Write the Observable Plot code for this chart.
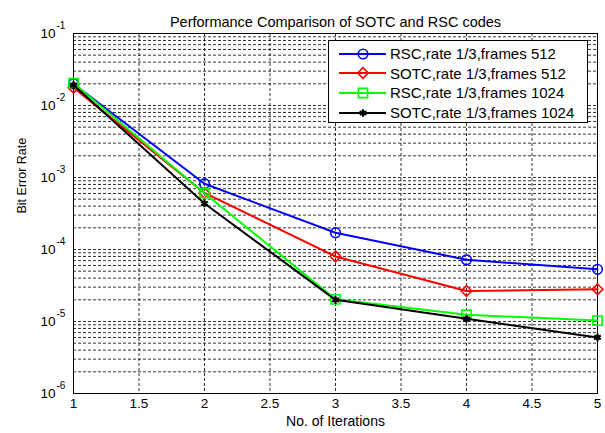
<!DOCTYPE html>
<html>
<head>
<meta charset="utf-8">
<script src="https://cdn.jsdelivr.net/npm/d3@7"></script>
<script src="https://cdn.jsdelivr.net/npm/@observablehq/plot@0.6"></script>
<style>
  body { margin: 0; background: #fff; font-family: "Liberation Sans", Arial, sans-serif; }
  #wrap { position: relative; width: 605px; height: 433px; }
  #legend { position: absolute; left: 328px; top: 40px; width: 260px; height: 83px; background: #fff; border: 1px solid #000; box-sizing: border-box; padding-top: 3px; }
  .row { display: flex; align-items: center; height: 19.6px; }
  .row svg { margin-left: 8px; margin-right: 3px; flex: none; }
  .row span { font-size: 15px; color: #000; white-space: nowrap; }
</style>
</head>
<body>
<div id="wrap"></div>
<script>
const iterations = [1, 2, 3, 4, 5];
const rsc512   = [0.0200, 8.2e-4, 1.71e-4, 7.2e-5, 5.3e-5];
const sotc512  = [0.0177, 6.1e-4, 8.0e-5, 2.65e-5, 2.8e-5];
const rsc1024  = [0.0204, 6.05e-4, 2.03e-5, 1.24e-5, 1.03e-5];
const sotc1024 = [0.0192, 4.35e-4, 2.0e-5, 1.09e-5, 6.0e-6];

const seriesNames = ["RSC,rate 1/3,frames 512", "SOTC,rate 1/3,frames 512", "RSC,rate 1/3,frames 1024", "SOTC,rate 1/3,frames 1024"];
const seriesValues = [rsc512, sotc512, rsc1024, sotc1024];
const seriesColors = ["#0000ff", "#ff0000", "#00ff00", "#000000"];
const seriesSymbols = ["circle", "diamond2", "square", "asterisk"];
const seriesR = [4.8, 4.8, 5.2, 3.6];

const xTicks = [1, 1.5, 2, 2.5, 3, 3.5, 4, 4.5, 5];
const yDecades = [1e-6, 1e-5, 1e-4, 1e-3, 1e-2, 1e-1];
const yExponents = ["-6", "-5", "-4", "-3", "-2", "-1"];

const title = "Performance Comparison of SOTC and RSC codes";
const xLabel = "No. of Iterations";
const yLabel = "Bit Error Rate";

const yGrid = [];
for (let k = -6; k <= -2; k++) for (let m = 1; m <= 9; m++) {
  const v = m * Math.pow(10, k);
  if (!(k === -6 && m === 1)) yGrid.push(v);
}
const xGrid = xTicks.filter(d => d > 1 && d < 5);

const marks = [
  Plot.ruleY(yGrid, {stroke: "#000", strokeWidth: 0.8, strokeDasharray: "3,2"}),
  Plot.ruleX(xGrid, {stroke: "#000", strokeWidth: 0.8, strokeDasharray: "3,2"}),
  Plot.frame({stroke: "#000", strokeWidth: 1})
];
seriesValues.forEach((vals, i) => {
  const data = iterations.map((x, j) => ({x, y: vals[j]}));
  marks.push(Plot.line(data, {x: "x", y: "y", stroke: seriesColors[i], strokeWidth: 2}));
  const sym = seriesSymbols[i];
  marks.push(Plot.dot(data, {x: "x", y: "y", symbol: sym, r: seriesR[i], stroke: seriesColors[i],
    strokeWidth: sym === "asterisk" ? 2.2 : 1.6, fill: "none"}));
});
marks.push(
  Plot.axisX(xTicks, {tickSize: 0, tickPadding: 5, tickFormat: d => String(d), fontSize: 13.5, label: null}),
  Plot.text(yDecades, {y: d => d, frameAnchor: "left", text: () => "10", textAnchor: "end", dx: -18, fontSize: 13.5}),
  Plot.text(yDecades, {y: d => d, frameAnchor: "left", text: (d, i) => yExponents[i], textAnchor: "start", dx: -17, dy: -8, fontSize: 10}),
  Plot.text([title], {frameAnchor: "top", dy: -16.5, fontSize: 14.5}),
  Plot.text([xLabel], {frameAnchor: "bottom", dy: 32, fontSize: 14}),
  Plot.text([yLabel], {frameAnchor: "left", dx: -52, rotate: -90, fontSize: 12.5})
);

const chart = Plot.plot({
  width: 605,
  height: 433,
  marginLeft: 73,
  marginRight: 8,
  marginTop: 33,
  marginBottom: 40,
  style: {fontFamily: "'Liberation Sans', Arial, sans-serif", background: "#fff", color: "#000"},
  x: {domain: [1, 5], axis: null},
  y: {type: "log", domain: [1e-6, 1e-1], axis: null},
  marks
});
const wrap = document.getElementById("wrap");
wrap.appendChild(chart);

// legend
const legend = document.createElement("div");
legend.id = "legend";
const symMap = {circle: d3.symbolCircle, diamond2: d3.symbolDiamond2, square: d3.symbolSquare, asterisk: d3.symbolAsterisk};
seriesNames.forEach((name, i) => {
  const row = document.createElement("div");
  row.className = "row";
  const s = d3.create("svg").attr("width", 50).attr("height", 18);
  s.append("line").attr("x1", 2).attr("x2", 49).attr("y1", 9).attr("y2", 9)
    .attr("stroke", seriesColors[i]).attr("stroke-width", 2);
  const r = seriesR[i];
  s.append("path").attr("transform", "translate(26,9)")
    .attr("d", d3.symbol(symMap[seriesSymbols[i]], Math.PI * r * r)())
    .attr("fill", "none").attr("stroke", seriesColors[i])
    .attr("stroke-width", seriesSymbols[i] === "asterisk" ? 2.2 : 1.6);
  row.appendChild(s.node());
  const t = document.createElement("span");
  t.textContent = name;
  row.appendChild(t);
  legend.appendChild(row);
});
wrap.appendChild(legend);
</script>
</body>
</html>
